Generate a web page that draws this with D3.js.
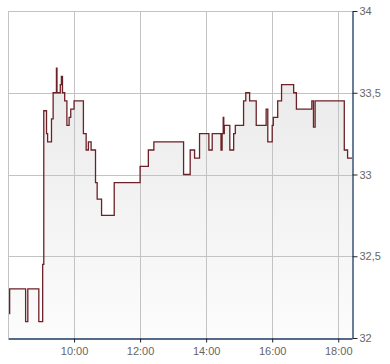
<!DOCTYPE html>
<html>
<head>
<meta charset="utf-8">
<script src="https://d3js.org/d3.v7.min.js"></script>
<style>
  body { margin: 0; background: #fff; }
  svg text { font-family: "Liberation Sans", Arial, sans-serif; }
</style>
</head>
<body>
<div id="chart"></div>
<script>
  // price steps (time, value)
  var times = ["08:02","08:03","08:32","08:36","08:56","09:03","09:05","09:10","09:12","09:19",
    "09:22","09:28","09:29","09:35","09:37","09:39","09:43","09:47","09:51","09:54",
    "10:00","10:17","10:22","10:26","10:31","10:39","10:42","10:50","11:13","12:00",
    "12:15","12:25","13:19","13:31","13:39","13:48","14:05","14:11","14:27","14:29",
    "14:31","14:32","14:33","14:43","14:50","14:53","15:08","15:12","15:19","15:31",
    "15:49","15:52","16:00","16:02","16:10","16:17","16:39","16:44","17:12","17:15",
    "17:18","18:11","18:17","18:25"];
  var prices = [32.15,32.30,32.10,32.30,32.10,32.45,33.39,33.25,33.20,33.34,
    33.50,33.65,33.50,33.55,33.60,33.50,33.45,33.30,33.35,33.40,
    33.45,33.25,33.15,33.20,33.15,32.95,32.85,32.75,32.95,33.05,
    33.15,33.20,33.00,33.15,33.10,33.25,33.15,33.25,33.15,33.25,
    33.35,33.25,33.30,33.15,33.25,33.30,33.45,33.50,33.45,33.30,
    33.40,33.20,33.30,33.35,33.45,33.55,33.50,33.40,33.45,33.29,
    33.45,33.15,33.10,33.10];
  var xTickLabels = ["10:00","12:00","14:00","16:00","18:00"];
  var yTicks = [32, 32.5, 33, 33.5, 34];
  var xStart = "08:00", xEnd = "18:25";

  var width = 390, height = 364;
  var margin = { top: 11, right: 38, bottom: 26, left: 8 };

  var parse = d3.timeParse("%H:%M");
  var data = times.map(function (t, i) { return { t: parse(t), v: prices[i] }; });

  var svg = d3.select("#chart").append("svg")
    .attr("width", width)
    .attr("height", height);

  var x = d3.scaleTime()
    .domain([parse(xStart), parse(xEnd)])
    .range([margin.left, width - margin.right]);
  var y = d3.scaleLinear()
    .domain([32, 34])
    .range([height - margin.bottom, margin.top]);

  var fmt = function (d) { return String(d).replace(".", ","); };

  // gradient for area
  var grad = svg.append("defs").append("linearGradient")
    .attr("id", "fillGrad")
    .attr("gradientUnits", "userSpaceOnUse")
    .attr("x1", 0).attr("x2", 0)
    .attr("y1", y(34)).attr("y2", y(32));
  grad.append("stop").attr("offset", "0%").attr("stop-color", "#e6e6e6");
  grad.append("stop").attr("offset", "100%").attr("stop-color", "#fcfcfc");

  // area under the line
  svg.append("path")
    .datum(data)
    .attr("fill", "url(#fillGrad)")
    .attr("d", d3.area().curve(d3.curveStepAfter)
      .x(function (d) { return x(d.t); })
      .y0(y(32))
      .y1(function (d) { return y(d.v); }));

  // grid
  var xGridVals = [parse(xStart)].concat(xTickLabels.map(parse));
  svg.append("g").selectAll("line").data(xGridVals).join("line")
    .attr("x1", function (d) { return Math.round(x(d)) + 0.5; })
    .attr("x2", function (d) { return Math.round(x(d)) + 0.5; })
    .attr("y1", y(34)).attr("y2", y(32))
    .attr("stroke", "#c3c3c3");
  svg.append("g").selectAll("line").data(yTicks.slice(1)).join("line")
    .attr("x1", x.range()[0]).attr("x2", x.range()[1])
    .attr("y1", function (d) { return Math.round(y(d)) + 0.5; })
    .attr("y2", function (d) { return Math.round(y(d)) + 0.5; })
    .attr("stroke", "#c3c3c3");

  // price line
  svg.append("path")
    .datum(data)
    .attr("fill", "none")
    .attr("stroke", "#6b2126")
    .attr("stroke-width", 1.3)
    .attr("d", d3.line().curve(d3.curveStepAfter)
      .x(function (d) { return x(d.t); })
      .y(function (d) { return y(d.v); }));

  // axes
  var xAxis = svg.append("g")
    .attr("transform", "translate(0," + (y(32) + 0.5) + ")")
    .call(d3.axisBottom(x)
      .tickValues(xTickLabels.map(parse))
      .tickFormat(d3.timeFormat("%H:%M"))
      .tickSize(4).tickSizeOuter(0).tickPadding(5));

  var yAxis = svg.append("g")
    .attr("transform", "translate(" + (x.range()[1] + 0.5) + ",0)")
    .call(d3.axisRight(y)
      .tickValues(yTicks)
      .tickFormat(fmt)
      .tickSize(5).tickSizeOuter(0).tickPadding(2));

  [xAxis, yAxis].forEach(function (g) {
    g.select(".domain").attr("stroke", "#1d3763").attr("stroke-width", 1.3);
    g.selectAll(".tick line").attr("stroke", "#222");
    g.selectAll(".tick text")
      .attr("fill", "#666")
      .style("font-size", "11px");
  });
</script>
</body>
</html>
